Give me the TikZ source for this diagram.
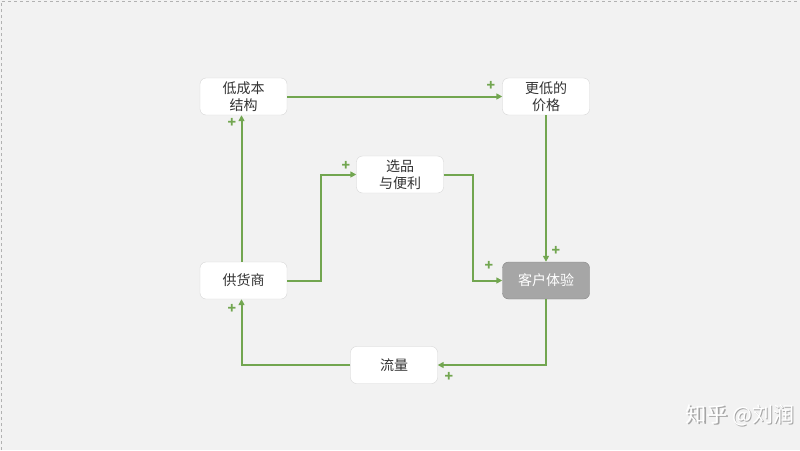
\documentclass[tikz,border=0pt]{standalone}
\usepackage{fontspec}
\setmainfont{Noto Sans CJK SC}
\usetikzlibrary{arrows.meta}
\definecolor{bg}{HTML}{F2F2F2}
\definecolor{grn}{HTML}{72A650}
\definecolor{bord}{HTML}{D6D6D6}
\definecolor{cx}{HTML}{A6A6A6}
\begin{document}
\begin{tikzpicture}[x=1pt,y=-1pt,
  box/.style={draw=bord,fill=white,rounded corners=6pt,minimum width=87pt,minimum height=37pt,inner sep=0pt,align=center,font=\fontsize{14}{16.5}\selectfont,text=black!80},
  link/.style={draw=grn,line width=2pt,-{Triangle[length=6pt,width=6pt]}},
  plus/.style={text=grn,font=\fontsize{14}{14}\selectfont\bfseries,inner sep=0pt}]
\fill[bg] (0,0) rectangle (800,450);
\useasboundingbox (0,0) rectangle (800,450);
\draw[gray!60,dashed,line width=0.8pt] (1,450) -- (1,1) -- (800,1);
\node[box] (cost) at (243.5,96.5) {低成本\\结构};
\node[box] (price) at (546,96.5) {更低的\\价格};
\node[box] (sel) at (400,174.5) {选品\\与便利};
\node[box] (sup) at (243.5,280.5) {供货商};
\node[box,fill=cx,draw=cx!80!black,text=white] (cx) at (546,280.5) {客户体验};
\node[box] (flow) at (394,365) {流量};
\draw[link] (cost.east) -- (price.west);
\draw[link] (price.south) -- (cx.north);
\draw[link] (sel.east) -- ++(29,0) |- (cx.west);
\draw[link] (sup.east) -- ++(34,0) |- (sel.west);
\draw[link] ([xshift=-2pt]sup.north) -- ([xshift=-2pt]cost.south);
\draw[link] (cx.south) |- (flow.east);
\draw[link] (flow.west) -| ([xshift=-2pt]sup.south);
\node[plus] (p1) at (491,86) {+};
\node[plus] (p2) at (556,251) {+};
\node[plus] (p3) at (489,266) {+};
\node[plus] (p4) at (346,166) {+};
\node[plus] (p5) at (232,123) {+};
\node[plus] (p6) at (449,377) {+};
\node[plus] (p7) at (232,309) {+};
\node[text=black!35,font=\fontsize{21}{21}\selectfont] (wm0) at (741.5,416.5) {知乎 @刘润};
\node[text=white,font=\fontsize{21}{21}\selectfont] (wm) at (740,415) {知乎 @刘润};
\end{tikzpicture}
\end{document}
